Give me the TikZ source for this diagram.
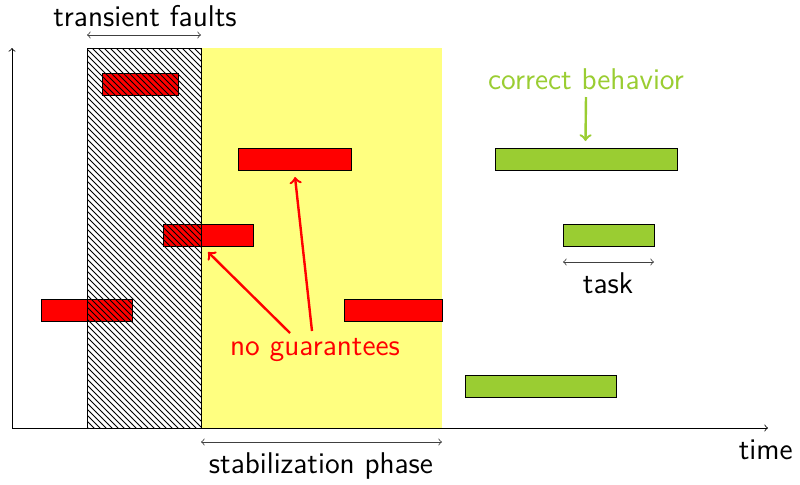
\documentclass[tikz,border=0pt]{standalone}
\usepackage{tikz}
\usetikzlibrary{positioning,patterns,calc}

\definecolor{faultred}{RGB}{255,0,0}
\definecolor{okgreen}{RGB}{154,205,50}
\definecolor{stabyellow}{RGB}{255,255,128}

\tikzset{
	bar/.style={rectangle, draw=black, inner sep=0, outer sep=0, minimum height=11pt},
	redbar/.style={bar, fill=faultred},
	greenbar/.style={bar, fill=okgreen},
	span/.style={<->, thin, black!75},
	lbl/.style={font=\sffamily\fontsize{15}{18}\selectfont, inner sep=1pt}
}

\begin{document}
\begin{tikzpicture}[x=0.5pt, y=-0.5pt]
\useasboundingbox (0,0) rectangle (800,484);

% phases
\fill[stabyellow] (201,48) rectangle (442,428);
\fill[white] (87,48) rectangle (201,428);

% tasks that get hit
\foreach \a/\b/\y/\n in {102/178/84/1,238/351/159/2,163/253/235/3,41/132/310/4,344/442/310/5} {
	\node[redbar, minimum width={0.5pt*(\b-\a)}] at ({(\a+\b)/2},\y) (r\n) {};
};
% tasks after stabilization
\foreach \a/\b/\y/\n in {495/677/159/1,563/654/235/2,465/616/386/3} {
	\node[greenbar, minimum width={0.5pt*(\b-\a)}] at ({(\a+\b)/2},\y) (g\n) {};
};

% faults
\draw[pattern=north west lines] (87,48) rectangle (201,428);

% axes
\coordinate (o) at (12,428);
\coordinate (ytop) at (12,48);
\coordinate (xend) at (768,428);
\draw[->] (o) -- (ytop);
\draw[->] (o) -- (xend);
\node[lbl, anchor=north east] at (795,437) (time) {time};

% spans
\coordinate (tf1) at (87,35);
\coordinate (tf2) at (201,35);
\draw[span] (tf1) -- (tf2);
\node[lbl] at (145,16) (tf) {transient faults};

\coordinate (sp1) at (201,442);
\coordinate (sp2) at (442,442);
\draw[span] (sp1) -- (sp2);
\node[lbl] at (321,466) (sp) {stabilization phase};

\coordinate (tk1) at (563,262);
\coordinate (tk2) at (654,262);
\draw[span] (tk1) -- (tk2);
\node[lbl] at (608,283) (task) {task};

% annotations
\node[lbl, text=okgreen] at (586,79) (cb) {correct behavior};
\draw[->, okgreen, line width=1.2pt] ($(cb.center)+(0,18)$) -- ($(g1.north)+(-0.5,-7)$);

\node[lbl, text=faultred] at (315,350) (ng) {no guarantees};
\coordinate (hit) at (208,252);
\draw[->, faultred, line width=1.2pt] ($(ng.center)+(-25,-17)$) -- (hit);
\draw[->, faultred, line width=1.2pt] ($(ng.center)+(-3,-19)$) -- ($(r2.south)+(0.5,7)$);
\end{tikzpicture}
\end{document}
